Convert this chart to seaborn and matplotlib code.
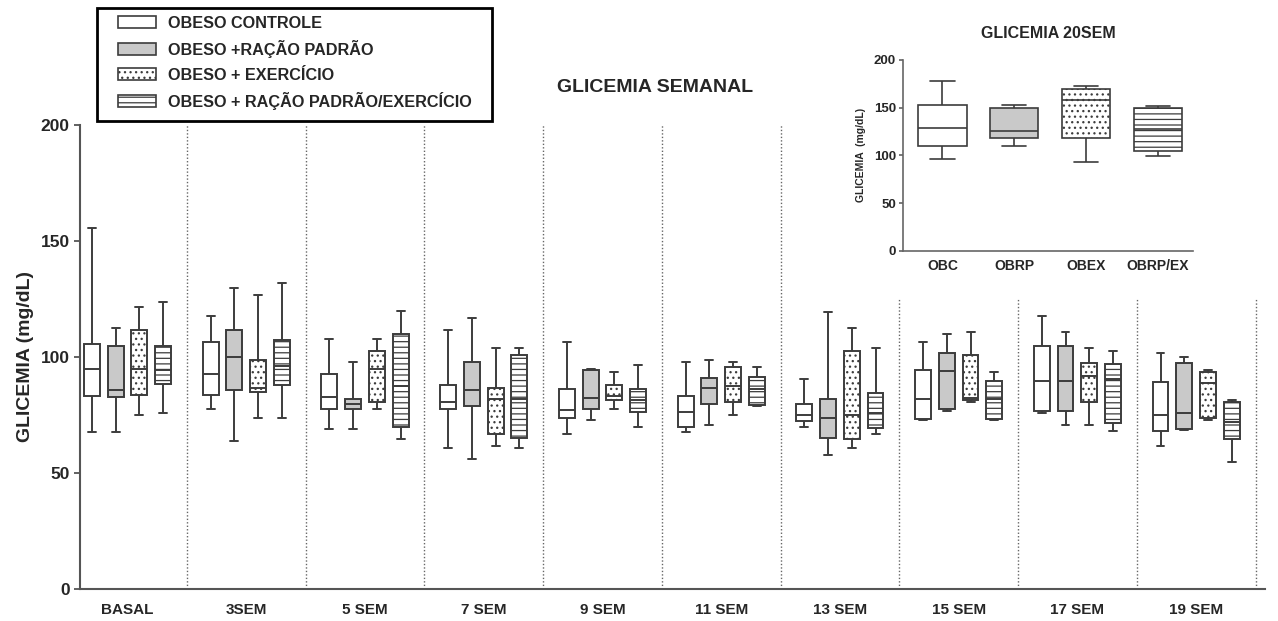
import numpy as np
import pandas as pd
import matplotlib
matplotlib.use("Agg")
import matplotlib.pyplot as plt
from matplotlib.patches import Patch, Rectangle
import seaborn as sns

# weekly glycemia, each entry = [min, Q1, median, Q3, max]
semanas = ["BASAL", "3SEM", "5 SEM", "7 SEM", "9 SEM", "11 SEM", "13 SEM", "15 SEM", "17 SEM", "19 SEM"]
grupos = ["OBC", "OBRP", "OBEX", "OBRP/EX"]
legenda = ["OBESO CONTROLE", "OBESO +RAÇÃO PADRÃO", "OBESO + EXERCÍCIO", "OBESO + RAÇÃO PADRÃO/EXERCÍCIO"]

obc = [
    [67.8, 83.3, 94.8, 105.5, 155.7],
    [77.8, 83.7, 92.7, 106.5, 117.7],
    [68.8, 77.7, 82.7, 92.7, 107.7],
    [60.7, 77.7, 80.5, 87.9, 111.7],
    [66.8, 73.6, 77.2, 86.0, 106.6],
    [67.6, 69.9, 76.2, 83.3, 97.8],
    [69.9, 72.2, 74.8, 79.7, 90.7],
    [72.8, 73.2, 81.8, 94.6, 106.6],
    [75.9, 76.7, 89.7, 104.8, 117.8],
    [61.7, 68.2, 74.8, 89.2, 101.6],
]
obrp = [
    [67.8, 82.8, 85.7, 104.7, 112.7],
    [63.7, 85.7, 99.8, 111.7, 129.8],
    [68.8, 77.7, 79.7, 81.7, 97.8],
    [56.1, 78.8, 85.8, 97.8, 116.7],
    [72.8, 77.8, 82.3, 94.5, 94.8],
    [70.8, 79.7, 86.8, 91.1, 98.6],
    [57.8, 65.3, 73.9, 81.8, 119.6],
    [76.8, 77.7, 93.9, 101.6, 109.8],
    [70.6, 76.7, 89.7, 104.8, 110.7],
    [68.6, 69.0, 75.9, 97.2, 99.8],
]
obex = [
    [74.9, 83.7, 94.8, 111.7, 121.6],
    [73.8, 84.7, 86.7, 98.8, 126.9],
    [77.7, 80.8, 94.8, 102.8, 107.7],
    [61.7, 66.6, 81.8, 86.7, 103.8],
    [77.8, 81.4, 83.0, 87.9, 93.7],
    [74.8, 80.8, 87.7, 95.6, 97.8],
    [60.7, 64.6, 75.2, 102.5, 112.7],
    [80.8, 81.4, 82.5, 100.8, 110.7],
    [70.6, 80.4, 91.9, 97.6, 103.8],
    [72.8, 73.5, 88.9, 93.7, 94.5],
]
obrpex = [
    [75.8, 88.4, 94.2, 104.9, 123.7],
    [73.8, 88.0, 96.0, 107.4, 131.8],
    [64.7, 70.0, 87.4, 109.7, 119.7],
    [60.7, 65.3, 82.0, 100.8, 103.8],
    [69.8, 76.5, 81.5, 86.3, 96.6],
    [78.9, 79.3, 86.0, 91.4, 95.7],
    [66.8, 69.3, 75.8, 84.4, 103.8],
    [72.8, 73.2, 81.8, 89.7, 93.7],
    [67.9, 71.5, 90.4, 97.0, 102.6],
    [54.8, 64.7, 72.0, 80.8, 81.5],
]

# inset: 20 weeks
sem20 = [
    [96.3, 110.3, 128.5, 152.4, 177.9],
    [109.6, 117.7, 125.7, 149.6, 152.7],
    [93.5, 118.7, 157.6, 169.2, 172.3],
    [99.5, 104.7, 128.0, 149.6, 151.3],
]

cores = {"OBC": "white", "OBRP": "#c9c9c9", "OBEX": "white", "OBRP/EX": "white"}
hachuras = {"OBC": "", "OBRP": "", "OBEX": "...", "OBRP/EX": "---"}
cor_hachura = {"OBC": "#3c3c3c", "OBRP": "#3c3c3c", "OBEX": "#8a8a8a", "OBRP/EX": "#3c3c3c"}
borda = "#3c3c3c"

rows = []
for g, serie in zip(grupos, [obc, obrp, obex, obrpex]):
    for s, cinco in zip(semanas, serie):
        for v in cinco:
            rows.append({"semana": s, "grupo": g, "glicemia": v})
df = pd.DataFrame(rows)

rows20 = []
for g, cinco in zip(grupos, sem20):
    for v in cinco:
        rows20.append({"grupo": g, "glicemia": v})
df20 = pd.DataFrame(rows20)

sns.set_style("white")
plt.rcParams["font.family"] = ["Liberation Sans", "DejaVu Sans"]
plt.rcParams["font.weight"] = "bold"
plt.rcParams["hatch.linewidth"] = 0.9

W, H = 1278, 621
fig = plt.figure(figsize=(W / 100, H / 100), dpi=100)
ax = fig.add_axes([80 / W, 32 / H, 1185 / W, 464 / H])

sns.boxplot(data=df, x="semana", y="glicemia", hue="grupo", order=semanas, hue_order=grupos,
            whis=(0, 100), width=0.8, gap=0.33, linewidth=1.4, linecolor=borda,
            palette=cores, saturation=1, legend=False, ax=ax)


def style_patch(p, g):
    p.set_hatch(hachuras[g])
    p.set_edgecolor(borda)
    if hasattr(p, "set_hatchcolor"):
        p.set_hatchcolor(cor_hachura[g])


def add_hatch(axis, offsets):
    for p in axis.patches:
        v = p.get_path().vertices
        xc = (v[:, 0].min() + v[:, 0].max()) / 2
        off = xc - round(xc)
        i = int(np.argmin([abs(off - o) for o in offsets]))
        style_patch(p, grupos[i])


add_hatch(ax, [-0.3, -0.1, 0.1, 0.3])

# dotted separators between weeks
for i in range(len(semanas)):
    top = 200 if i < 6 else 125
    ax.plot([i + 0.5, i + 0.5], [0, top], ls=(0, (1, 1.5)), color="#666666", lw=1.0)

ax.set_xlim(-0.40, 9.58)
ax.set_ylim(0, 200)
ax.set_yticks([0, 50, 100, 150, 200])
ax.tick_params(axis="y", labelsize=12.5, length=4, width=1.3, color="#555555", left=True)
ax.tick_params(axis="x", labelsize=11, length=0, pad=10)
for sp in ["top", "right"]:
    ax.spines[sp].set_visible(False)
for sp in ["left", "bottom"]:
    ax.spines[sp].set_color("#555555")
    ax.spines[sp].set_linewidth(1.5)
ax.set_xlabel("")
ax.set_ylabel("GLICEMIA (mg/dL)", fontsize=14, fontweight="bold", labelpad=5)

fig.text(655 / W, 1 - 88 / H, "GLICEMIA SEMANAL", ha="center", va="center",
         fontsize=14, fontweight="bold")

# legend: frame drawn separately so its size matches the original box
fig.add_artist(Rectangle((97 / W, 1 - 121 / H), 395 / W, 113 / H, transform=fig.transFigure,
                         fill=False, edgecolor="black", lw=2))
handles = []
for g in grupos:
    h = Patch(facecolor=cores[g], edgecolor=borda, hatch=hachuras[g], lw=1.2)
    if hasattr(h, "set_hatchcolor"):
        h.set_hatchcolor(cor_hachura[g])
    handles.append(h)
leg = fig.legend(handles, legenda, loc="upper left", bbox_to_anchor=(118 / W, 1 - 15.5 / H),
                 prop={"weight": "bold", "size": 11.7}, frameon=False,
                 handlelength=2.34, handleheight=0.75, labelspacing=0.585, borderpad=0,
                 handletextpad=0.74, borderaxespad=0)

# inset 20 weeks
ins = fig.add_axes([903 / W, (H - 250.7) / H, 290 / W, 190.7 / H])
sns.boxplot(data=df20, x="grupo", y="glicemia", hue="grupo", order=grupos, hue_order=grupos,
            whis=(0, 100), width=0.67, linewidth=1.2, linecolor=borda, palette=cores,
            saturation=1, legend=False, ax=ins)
for p, g in zip(ins.patches, grupos):
    style_patch(p, g)
ins.set_xlim(-0.55, 3.49)
ins.set_ylim(0, 200)
ins.set_yticks([0, 50, 100, 150, 200])
ins.tick_params(axis="y", labelsize=9.5, length=3, width=1.1, color="#555555", left=True, pad=2)
ins.tick_params(axis="x", labelsize=10, length=0, pad=6)
for sp in ["top", "right"]:
    ins.spines[sp].set_visible(False)
for sp in ["left", "bottom"]:
    ins.spines[sp].set_color("#666666")
    ins.spines[sp].set_linewidth(1.2)
ins.set_xlabel("")
ins.set_ylabel("GLICEMIA  (mg/dL)", fontsize=7.5, fontweight="bold", labelpad=6)
ins.set_title("GLICEMIA 20SEM", fontsize=11.5, fontweight="bold", pad=16)

fig.savefig("out.png", dpi=100)
